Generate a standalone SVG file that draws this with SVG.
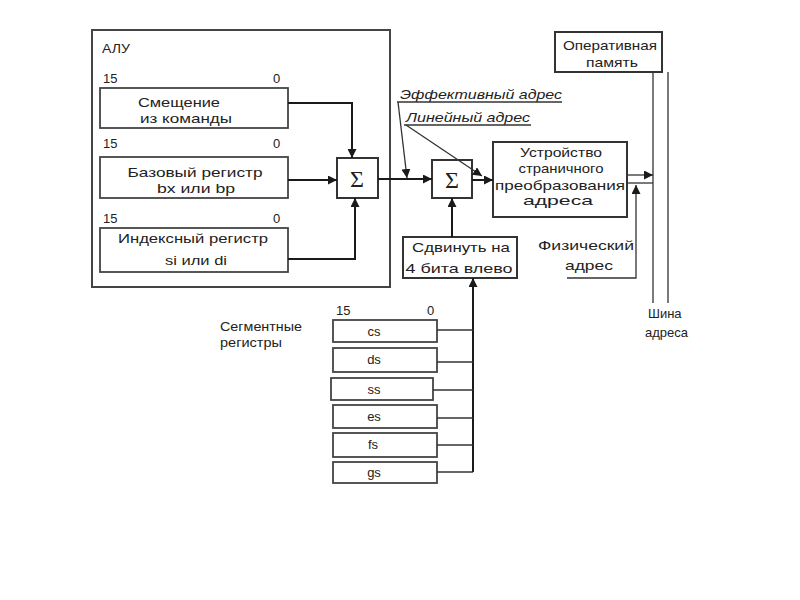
<svg xmlns="http://www.w3.org/2000/svg" width="800" height="600" viewBox="0 0 800 600">
<defs>
<marker id="ah" viewBox="0 0 10 10" refX="10" refY="5" markerWidth="9" markerHeight="9" markerUnits="userSpaceOnUse" orient="auto">
<path d="M0,0 L10,5 L0,10 z" fill="#1a1a1a"/>
</marker>
</defs>
<style>
text{font-family:"Liberation Sans",Arial,sans-serif;font-size:13px;fill:#222}
.c{text-anchor:middle}
.i{font-style:italic}
.sig{font-family:"Liberation Serif","Times New Roman",serif;font-size:24px}
.box{fill:#fff;stroke:#333;stroke-width:2}
.reg{fill:#fff;stroke:#444;stroke-width:1.8}
.ln{fill:none;stroke:#1a1a1a;stroke-width:2}
.thin{fill:none;stroke:#333;stroke-width:1.3}
</style>
<rect width="800" height="600" fill="#fff"/>

<g id="alu">
<rect x="92" y="30" width="298" height="257" fill="none" stroke="#444" stroke-width="2"/>
<text x="102" y="53" textLength="28" lengthAdjust="spacingAndGlyphs">АЛУ</text>
</g>

<g id="reg-disp">
<text x="103" y="83">15</text><text x="273" y="83">0</text>
<rect class="reg" x="100" y="88" width="188" height="40"/>
<text class="c" x="179" y="107" textLength="82" lengthAdjust="spacingAndGlyphs">Смещение</text>
<text class="c" x="186" y="123" textLength="92" lengthAdjust="spacingAndGlyphs">из  команды</text>
</g>

<g id="reg-base">
<text x="103" y="148">15</text><text x="273" y="148">0</text>
<rect class="reg" x="100" y="157" width="188" height="41"/>
<text class="c" x="195" y="177" textLength="135" lengthAdjust="spacingAndGlyphs">Базовый регистр</text>
<text class="c" x="196" y="193" textLength="78" lengthAdjust="spacingAndGlyphs">bx или bp</text>
</g>

<g id="reg-index">
<text x="103" y="223">15</text><text x="273" y="223">0</text>
<rect class="reg" x="100" y="228" width="188" height="44"/>
<text class="c" x="193" y="243" textLength="150" lengthAdjust="spacingAndGlyphs">Индексный регистр</text>
<text class="c" x="196" y="265" textLength="62" lengthAdjust="spacingAndGlyphs">si или di</text>
</g>

<g id="sum1">
<rect class="box" x="337" y="158" width="41" height="40"/>
<text class="c sig" x="357" y="187">Σ</text>
</g>

<g id="sum2">
<rect class="box" x="432" y="160" width="40" height="38"/>
<text class="c sig" x="452" y="188">Σ</text>
</g>

<g id="labels-addr">
<text class="i" x="400" y="99" textLength="162" lengthAdjust="spacingAndGlyphs">Эффективный адрес</text>
<line class="thin" x1="397" y1="102" x2="562" y2="102"/>
<text class="i" x="406" y="122" textLength="124" lengthAdjust="spacingAndGlyphs">Линейный адрес</text>
<line class="thin" x1="404" y1="125" x2="531" y2="125"/>
</g>

<g id="paging">
<rect class="box" x="493" y="142" width="134" height="75"/>
<text class="c" x="561" y="157" textLength="82" lengthAdjust="spacingAndGlyphs">Устройство</text>
<text class="c" x="561" y="173" textLength="85" lengthAdjust="spacingAndGlyphs">страничного</text>
<text class="c" x="560" y="190" textLength="130" lengthAdjust="spacingAndGlyphs">преобразования</text>
<text class="c" x="558" y="205" textLength="70" lengthAdjust="spacingAndGlyphs">адреса</text>
</g>

<g id="shift">
<rect class="box" x="403" y="237" width="114" height="41"/>
<text class="c" x="461" y="252" textLength="98" lengthAdjust="spacingAndGlyphs">Сдвинуть на</text>
<text class="c" x="459" y="273" textLength="107" lengthAdjust="spacingAndGlyphs">4 бита влево</text>
</g>

<g id="phys">
<text class="c" x="586" y="250" textLength="96" lengthAdjust="spacingAndGlyphs">Физический</text>
<text class="c" x="589" y="270" textLength="48" lengthAdjust="spacingAndGlyphs">адрес</text>
</g>

<g id="ram">
<rect class="box" x="555" y="32" width="107" height="40"/>
<text class="c" x="610" y="50" textLength="94" lengthAdjust="spacingAndGlyphs">Оперативная</text>
<text class="c" x="612" y="67" textLength="52" lengthAdjust="spacingAndGlyphs">память</text>
</g>

<g id="bus">
<text x="648" y="318">Шина</text>
<text x="645" y="337">адреса</text>
</g>

<g id="segregs">
<text x="220" y="331" textLength="82" lengthAdjust="spacingAndGlyphs">Сегментные</text>
<text x="220" y="347" textLength="62" lengthAdjust="spacingAndGlyphs">регистры</text>
<text x="336" y="315">15</text><text x="427" y="315">0</text>
<rect class="reg" x="333" y="320" width="104" height="22"/>
<text class="c" x="374" y="336">cs</text>
<rect class="reg" x="333" y="348" width="104" height="24"/>
<text class="c" x="374" y="364">ds</text>
<rect class="reg" x="331" y="378" width="102" height="22"/>
<text class="c" x="374" y="394">ss</text>
<rect class="reg" x="333" y="405" width="104" height="23"/>
<text class="c" x="374" y="421">es</text>
<rect class="reg" x="333" y="433" width="104" height="24"/>
<text class="c" x="373" y="449">fs</text>
<rect class="reg" x="333" y="462" width="104" height="21"/>
<text class="c" x="374" y="477">gs</text>
</g>

<g id="connectors">
<polyline class="ln" points="288,103 352,103 352,158" marker-end="url(#ah)"/>
<line class="ln" x1="288" y1="180" x2="337" y2="180" marker-end="url(#ah)"/>
<polyline class="ln" points="288,259 355,259 355,198" marker-end="url(#ah)"/>
<line class="ln" x1="378" y1="179" x2="432" y2="179" marker-end="url(#ah)"/>
<line class="thin" x1="398" y1="102" x2="407" y2="178" marker-end="url(#ah)"/>
<line class="thin" x1="406" y1="125" x2="482" y2="176" marker-end="url(#ah)"/>
<line class="ln" x1="472" y1="180" x2="493" y2="180" marker-end="url(#ah)"/>
<line class="ln" x1="452" y1="237" x2="452" y2="198" marker-end="url(#ah)"/>
<line class="ln" x1="473" y1="472" x2="473" y2="278" marker-end="url(#ah)"/>
<line class="thin" x1="437" y1="330" x2="473" y2="330"/>
<line class="thin" x1="437" y1="362" x2="473" y2="362"/>
<line class="thin" x1="433" y1="390" x2="473" y2="390"/>
<line class="thin" x1="437" y1="418" x2="473" y2="418"/>
<line class="thin" x1="437" y1="445" x2="473" y2="445"/>
<line class="thin" x1="437" y1="472" x2="473" y2="472"/>
<line class="thin" x1="653" y1="72" x2="653" y2="303"/>
<line class="thin" x1="668" y1="72" x2="668" y2="303"/>
<line class="thin" x1="627" y1="175" x2="653" y2="175" marker-end="url(#ah)"/>
<line class="thin" x1="627" y1="183" x2="653" y2="183"/>
<polyline class="thin" points="567,278 636,278 636,185" marker-end="url(#ah)"/>
</g>
</svg>
